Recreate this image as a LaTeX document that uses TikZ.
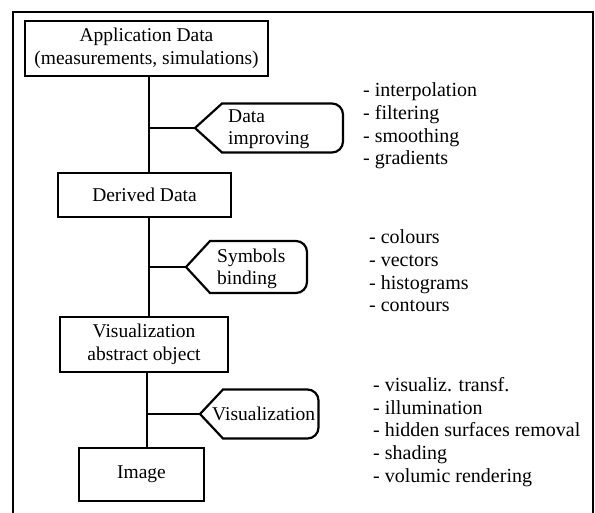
\documentclass[tikz,border=0pt]{standalone}
\usepackage{fontspec}
\setmainfont{Liberation Serif}
\begin{document}
\begin{tikzpicture}[x=1pt,y=1pt,
  txt/.style={font=\fontsize{19.5}{22.5}\selectfont, inner sep=0pt},
  stage/.style={txt, draw, line width=2.6pt, align=center},
  proc/.style={draw, line width=2.2pt, line join=miter},
  link/.style={line width=2.6pt},
  frame/.style={line width=1.5pt},
  items/.style={txt, font=\fontsize{20}{22.6}\selectfont, align=left, anchor=west}]
\useasboundingbox (0,0) rectangle (595,-512);
\clip (0,0) rectangle (595,-512);

% outer frame, open at the bottom
\draw[frame] (13,-530) -- (13,-12) -- (593,-12) -- (593,-530);

% main chain of data stages
\coordinate (spine) at (149,0);
\coordinate (spinelow) at (147,0);
\node[stage, minimum width=243pt, minimum height=55pt] (app) at (146.5,-48.5)
  {Application Data\\(measurements, simulations)};
\node[stage, minimum width=173pt, minimum height=44pt] (derived) at (144.5,-195) {Derived Data};
\node[stage, minimum width=168pt, minimum height=55pt] (vao) at (144,-344.5)
  {Visualization\\abstract object};
\node[stage, minimum width=125pt, minimum height=53pt] (image) at (141.5,-474.5) {Image};

\draw[link] (app.south -| spine) -- (derived.north -| spine);
\draw[link] (derived.south -| spine) -- (vao.north -| spine);
\draw[link] (vao.south -| spinelow) -- (image.north -| spinelow);

% process tags hanging off the chain
\coordinate (tipA) at (195,-128);
\draw[proc] (tipA) -- ++(27,24.5) -- ++(110,0) arc[start angle=90,end angle=0,radius=11]
  -- ++(0,-27) arc[start angle=0,end angle=-90,radius=11] -- ++(-110,0) -- cycle;
\node[txt, anchor=west, align=left] (procA) at (228,-129) {Data\\improving};
\draw[link] (tipA -| spine) -- (tipA);

\coordinate (tipB) at (186,-267);
\draw[proc] (tipB) -- ++(24,26) -- ++(86,0) arc[start angle=90,end angle=0,radius=11]
  -- ++(0,-30) arc[start angle=0,end angle=-90,radius=11] -- ++(-86,0) -- cycle;
\node[txt, anchor=west, align=left] (procB) at (217,-269) {Symbols\\binding};
\draw[link] (tipB -| spine) -- (tipB);

\coordinate (tipC) at (200,-414);
\draw[proc] (tipC) -- ++(23,24.5) -- ++(84.5,0) arc[start angle=90,end angle=0,radius=11]
  -- ++(0,-27) arc[start angle=0,end angle=-90,radius=11] -- ++(-84.5,0) -- cycle;
\node[txt, anchor=west] (procC) at (212,-414) {Visualization};
\draw[link] (tipC -| spinelow) -- (tipC);

% operations belonging to each process
\node[items] (opsA) at (363,-126)
  {- interpolation\\- filtering\\- smoothing\\- gradients};
\node[items] (opsB) at (369,-271)
  {- colours\\- vectors\\- histograms\\- contours};
\node[items] (opsC) at (373,-432)
  {- visualiz. transf.\\- illumination\\- hidden surfaces removal\\- shading\\- volumic rendering};
\end{tikzpicture}
\end{document}
